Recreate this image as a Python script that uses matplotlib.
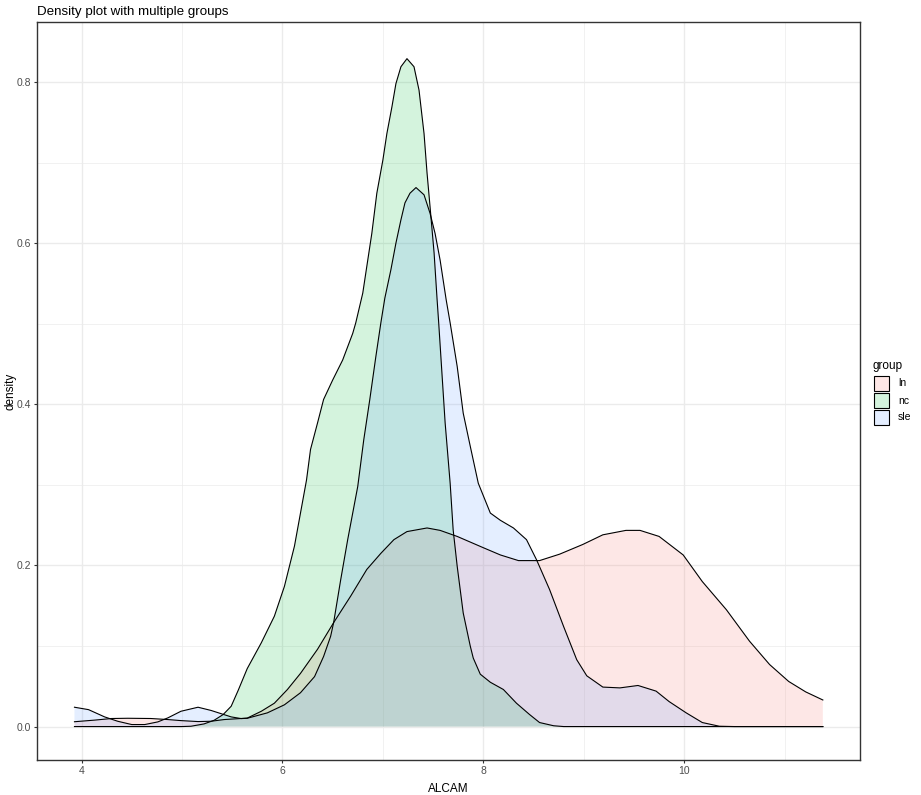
import numpy as np
import matplotlib
matplotlib.use("Agg")
import matplotlib.pyplot as plt
from matplotlib.patches import Rectangle
from matplotlib.ticker import MultipleLocator, FormatStrFormatter

plt.rcParams['font.family'] = ['Liberation Sans', 'DejaVu Sans']

# values (x = ALCAM, y = density)
ln_x = [3.93, 4.13, 4.30, 4.46, 4.69, 4.86, 4.99, 5.16, 5.29, 5.42, 5.65, 5.79,
        5.92, 6.05, 6.18, 6.35, 6.51, 6.68, 6.84, 6.98, 7.11, 7.24,
        7.44, 7.57, 7.74, 8.00, 8.17, 8.35, 8.56, 8.76, 8.99, 9.19, 9.42, 9.56,
        9.75, 9.99, 10.18, 10.42, 10.65, 10.85, 11.04, 11.21, 11.38]
ln_y = [0.006, 0.008, 0.010, 0.0103, 0.010, 0.0087, 0.0074, 0.0062, 0.0066, 0.0087,
        0.0105, 0.019, 0.029, 0.046, 0.066, 0.096, 0.129, 0.162,
        0.195, 0.215, 0.232, 0.242, 0.2465, 0.2435, 0.236, 0.222, 0.213, 0.206,
        0.206, 0.214, 0.226, 0.238, 0.2435, 0.2435, 0.236, 0.213, 0.180, 0.145,
        0.106, 0.077, 0.056, 0.043, 0.033]

nc_x = [3.93, 5.00, 5.09, 5.22, 5.32, 5.41, 5.49, 5.56, 5.65, 5.79, 5.92, 6.02,
        6.12, 6.18, 6.24, 6.28, 6.35, 6.41, 6.50, 6.60, 6.70, 6.73, 6.80, 6.84,
        6.89, 6.94, 7.00, 7.04, 7.09, 7.13, 7.18, 7.24, 7.31, 7.36, 7.41, 7.44,
        7.47, 7.51, 7.54, 7.556, 7.588, 7.62, 7.67, 7.70, 7.74, 7.80, 7.87, 7.90,
        7.97, 8.07, 8.20, 8.33, 8.46, 8.56, 8.70, 8.80, 11.38]
nc_y = [0.0, 0.0, 0.0004, 0.0033, 0.0078, 0.0149, 0.0252, 0.045, 0.072, 0.104,
        0.137, 0.174, 0.224, 0.265, 0.306, 0.344, 0.377, 0.406, 0.430, 0.455,
        0.488, 0.501, 0.538, 0.571, 0.612, 0.662, 0.703, 0.736, 0.769, 0.798,
        0.819, 0.829, 0.819, 0.790, 0.736, 0.687, 0.645, 0.588, 0.530, 0.501,
        0.439, 0.377, 0.302, 0.244, 0.199, 0.141, 0.100, 0.085, 0.065, 0.055,
        0.046, 0.029, 0.015, 0.005, 0.001, 0.0, 0.0]

sle_x = [3.93, 4.07, 4.23, 4.36, 4.50, 4.63, 4.76, 4.86, 4.99, 5.16, 5.29, 5.39,
         5.49, 5.59, 5.65, 5.85, 6.02, 6.18, 6.32, 6.41, 6.48, 6.51, 6.58, 6.65,
         6.70, 6.75, 6.81, 6.87, 6.93, 6.98, 7.02, 7.08, 7.13, 7.18, 7.22, 7.27,
         7.33, 7.41, 7.47, 7.52, 7.57, 7.63, 7.67, 7.74, 7.80, 7.87, 7.95, 8.07,
         8.17, 8.30, 8.43, 8.53, 8.66, 8.80, 8.93, 9.03, 9.19, 9.36, 9.54, 9.72,
         9.85, 10.02, 10.18, 10.35, 10.50, 11.38]
sle_y = [0.024, 0.021, 0.012, 0.0066, 0.0025, 0.0025, 0.0058, 0.0108, 0.019, 0.024,
         0.020, 0.016, 0.012, 0.0099, 0.0103, 0.017, 0.027, 0.042, 0.062, 0.087,
         0.112, 0.129, 0.182, 0.232, 0.265, 0.298, 0.356, 0.406, 0.459, 0.501,
         0.532, 0.567, 0.600, 0.629, 0.650, 0.662, 0.669, 0.660, 0.637, 0.612,
         0.579, 0.530, 0.501, 0.447, 0.389, 0.348, 0.302, 0.265, 0.256, 0.2465,
         0.232, 0.207, 0.170, 0.124, 0.083, 0.063, 0.049, 0.048, 0.051, 0.044,
         0.031, 0.017, 0.005, 0.0004, 0.0, 0.0]

groups = ['ln', 'nc', 'sle']
colors = ['#F8766D', '#00BA38', '#619CFF']
series = [(ln_x, ln_y), (nc_x, nc_y), (sle_x, sle_y)]
alpha = 0.17

W, H = 921, 795
fig = plt.figure(figsize=(W / 100, H / 100), dpi=100)
ax = fig.add_axes([37 / W, 1 - 760 / H, 823 / W, 738 / H])

for (xs, ys), c in zip(series, colors):
    ax.fill_between(xs, 0, ys, facecolor=c, alpha=alpha, edgecolor='none', zorder=2)
    ax.plot(xs, ys, color='black', lw=0.8, zorder=3)

ax.set_xlim(3.557, 11.75)
ax.set_ylim(-0.0415, 0.8745)
ax.xaxis.set_major_locator(MultipleLocator(2))
ax.xaxis.set_minor_locator(MultipleLocator(1))
ax.yaxis.set_major_locator(MultipleLocator(0.2))
ax.yaxis.set_minor_locator(MultipleLocator(0.1))
ax.yaxis.set_major_formatter(FormatStrFormatter('%.1f'))
ax.grid(which='major', color='#EBEBEB', lw=1.0, zorder=0)
ax.grid(which='minor', color='#EBEBEB', lw=0.5, zorder=0)
ax.set_axisbelow(True)
ax.tick_params(which='major', length=2.5, width=0.8, color='#333333',
               labelsize=7.5, labelcolor='#4D4D4D', pad=2)
ax.tick_params(which='minor', length=0)
for s in ax.spines.values():
    s.set_color('#333333')
    s.set_linewidth(1.0)

ax.set_xlabel('ALCAM', fontsize=8.5, labelpad=5)
ax.set_ylabel('density', fontsize=8.5)
ax.yaxis.set_label_coords((17 - 37) / 823, 0.5)
ax.set_title('Density plot with multiple groups', fontsize=9.6, loc='left', pad=5)

# legend drawn by hand to match the ggplot key layout
fig.text(872 / W, 1 - 366 / H, 'group', fontsize=8.5, ha='left', va='center')
for i, (g, c) in enumerate(zip(groups, colors)):
    top = 375 + i * 17
    fig.patches.append(Rectangle((874 / W, 1 - (top + 16) / H), 15 / W, 15 / H,
                                 transform=fig.transFigure,
                                 facecolor=matplotlib.colors.to_rgba(c, alpha),
                                 edgecolor='black', lw=0.8))
    fig.text(898 / W, 1 - (top + 8.5) / H, g, fontsize=7.5, ha='left', va='center')

fig.savefig('out.png', dpi=100)
